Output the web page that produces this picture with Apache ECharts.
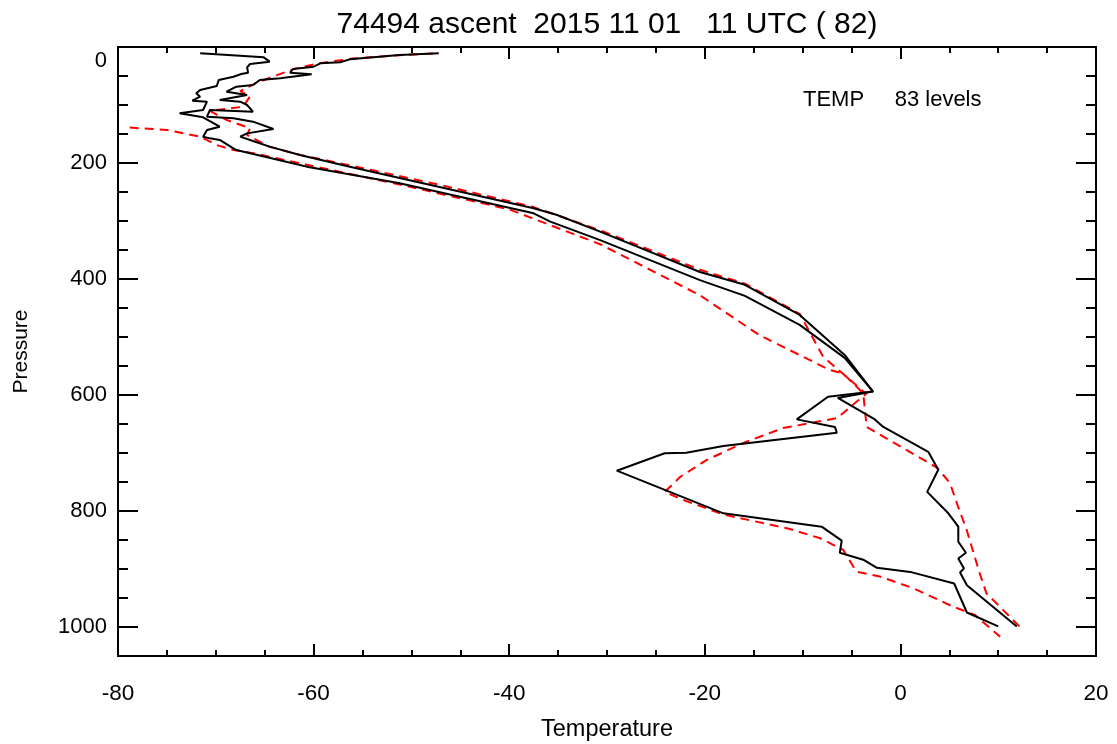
<!DOCTYPE html>
<html><head><meta charset="utf-8">
<script src="https://cdn.jsdelivr.net/npm/echarts@6/dist/echarts.min.js"></script>
<style>html,body{margin:0;padding:0;background:#fff}#c{width:1117px;height:744px}</style>
</head><body><div id="c"></div>
<script>
const titleText = '74494 ascent  2015 11 01   11 UTC ( 82)';
const noteText = 'TEMP     83 levels';
const xName = 'Temperature';
const yName = 'Pressure';
const xRange = [-80, 20];
const yRange = [0, 1050];

// [temperature, pressure]
const blackA = [[-71.6,10.9],[-65.1,17.8],[-64.5,25.3],[-66.5,29.3],[-66.8,35],[-66.7,44.3],[-67.4,46.6],[-68.2,51.2],[-69.7,56.9],[-69.9,67.2],[-71.6,74.1],[-72.0,79.9],[-71.6,85.7],[-72.4,92.5],[-70.9,94.3],[-71.3,108.6],[-73.7,114.4],[-71.3,121.3],[-69.6,137.4],[-70.9,143.1],[-71.3,154.6],[-70.6,157.5],[-69.6,160.3],[-68.2,174.7],[-67.9,177.6],[-61.4,203.4],[-60.4,207.5],[-51.2,235],[-37.5,286.7],[-35.8,301],[-30.7,333],[-20.5,402],[-15.9,429],[-10.3,479],[-5.7,536],[-2.8,594],[-7.4,603],[-10.6,642],[-6.7,655],[-6.5,665],[-18.1,688],[-21.9,699.5],[-24.1,700.5],[-29.0,730.5],[-18.1,804],[-8.05,827],[-6.0,851],[-6.2,872],[-3.8,884],[-2.4,898],[1.0,905],[5.5,925],[6.8,975],[10.0,999]];
const blackB = [[-47.2,10.9],[-51.2,13.8],[-56.3,21.3],[-57.3,26.4],[-59.3,28.2],[-60.0,33.9],[-62.1,37.9],[-62.4,44.3],[-60.2,47.1],[-63.4,54.0],[-65.5,56.9],[-66.2,65.5],[-67.9,68.4],[-68.9,77],[-66.8,82.8],[-69.6,91.4],[-67.5,94.3],[-66.8,100],[-66.2,111.5],[-70.6,108.6],[-70.9,120.1],[-68.2,123],[-66.2,128.7],[-64.1,141.4],[-66.8,148.9],[-67.5,154.6],[-66.5,160.3],[-64.5,171.8],[-61.4,186.2],[-56.3,206.4],[-37.5,278],[-35.1,289.7],[-30.7,318.4],[-20.5,388],[-15.9,410],[-10.3,462],[-5.7,531],[-2.8,594],[-6.4,605],[-2.7,641],[-1.75,655],[2.85,698],[3.87,729],[2.74,767],[4.9,804],[5.92,827],[5.92,853],[6.7,872],[5.92,882],[6.5,899],[6.1,906],[6.8,928],[11.9,999]];
const redA = [[-47.8,11],[-52,15],[-56,20],[-59.5,28],[-62,38],[-64,50],[-66,63],[-67.5,76],[-66.5,85],[-67.2,103],[-70.6,110],[-69,125],[-66.5,140],[-66.8,152],[-64.5,172],[-61.4,186],[-56.3,204],[-47,238],[-37.5,276],[-30.7,316],[-20.5,384],[-15.9,408],[-10.3,460],[-7.9,534],[-3.5,598],[-6.5,640],[-12,657],[-16.1,683],[-19.8,712],[-22.5,741],[-24.1,767],[-22.2,781],[-18.1,806],[-11.3,831],[-8.2,847],[-5.85,867],[-4.5,904.6],[-2.1,913],[1.3,933],[5.4,965],[7.6,979],[10.2,1016.7]];
const redB = [[-78.8,139],[-75,143],[-71.6,154.6],[-69.9,169],[-68.2,177.6],[-66.2,183],[-60.7,203],[-51.2,237],[-40,280],[-30.7,340],[-20.5,428],[-14.4,497],[-7.2,557],[-5.85,563],[-3.8,597],[-3.45,655],[3.8,726],[5.07,752],[5.9,792.6],[6.78,832.8],[8.1,907],[8.8,942],[12.2,999.4]];

const FONT = 'Liberation Sans';
const chart = echarts.init(document.getElementById('c'), null, {renderer: 'canvas'});

function xAx(pos, labels) {
  return {
    type: 'value', position: pos, min: xRange[0], max: xRange[1], interval: 20,
    name: labels ? xName : '', nameLocation: 'middle', nameGap: 62,
    nameTextStyle: {fontFamily: FONT, fontSize: 23.5, color: '#000'},
    axisLine: {show: true, onZero: false, lineStyle: {color: '#000', width: 2}},
    axisTick: {show: true, inside: true, length: 12, lineStyle: {color: '#000', width: 2}},
    minorTick: {show: true, splitNumber: 4, length: 6, lineStyle: {color: '#000', width: 2}},
    axisLabel: {show: labels, margin: 26, fontFamily: FONT, fontSize: 22.5, color: '#000'},
    splitLine: {show: false}, minorSplitLine: {show: false}
  };
}
function yAx(pos, step, len, labels) {
  return {
    type: 'value', position: pos, min: yRange[0], max: yRange[1], interval: step, inverse: true,
    name: labels ? yName : '', nameLocation: 'middle', nameGap: 86, nameRotate: 90,
    nameTextStyle: {fontFamily: FONT, fontSize: 21, color: '#000'},
    axisLine: {show: true, onZero: false, lineStyle: {color: '#000', width: 2}},
    axisTick: {show: true, inside: true, length: len, lineStyle: {color: '#000', width: 2}},
    axisLabel: {show: labels, showMaxLabel: false, margin: 11, fontFamily: FONT, fontSize: 22, color: '#000',
      formatter: v => v === 0 ? '{z|0}' : String(v),
      rich: {z: {fontFamily: FONT, fontSize: 22, color: '#000', padding: [27, 0, 0, 0]}}},
    splitLine: {show: false}
  };
}
function line(data, color, dashed) {
  return {
    type: 'line', data: data, xAxisIndex: 0, yAxisIndex: 0, showSymbol: false, symbol: 'none',
    animation: false, silent: true, clip: true,
    lineStyle: {color: color, width: 2, type: dashed ? [9, 6] : 'solid'}
  };
}

chart.setOption({
  animation: false,
  backgroundColor: '#fff',
  title: {text: titleText, left: 602, top: 5, textAlign: 'center',
    textStyle: {fontFamily: FONT, fontSize: 30, fontWeight: 'normal', color: '#000'}},
  grid: {left: 118, right: 21, top: 47, bottom: 88, containLabel: false, outerBoundsMode: 'none'},
  xAxis: [xAx('bottom', true), xAx('top', false)],
  yAxis: [yAx('left', 200, 20, true), yAx('left', 50, 10, false), yAx('right', 200, 20, false), yAx('right', 50, 10, false)],
  graphic: [{type: 'text', left: 803, top: 89, style: {text: noteText, font: '22px "Liberation Sans"', fill: '#000'}}],
  series: [line(redB, '#ff0000', true), line(redA, '#ff0000', true), line(blackA, '#000', false), line(blackB, '#000', false)]
});
</script></body></html>
